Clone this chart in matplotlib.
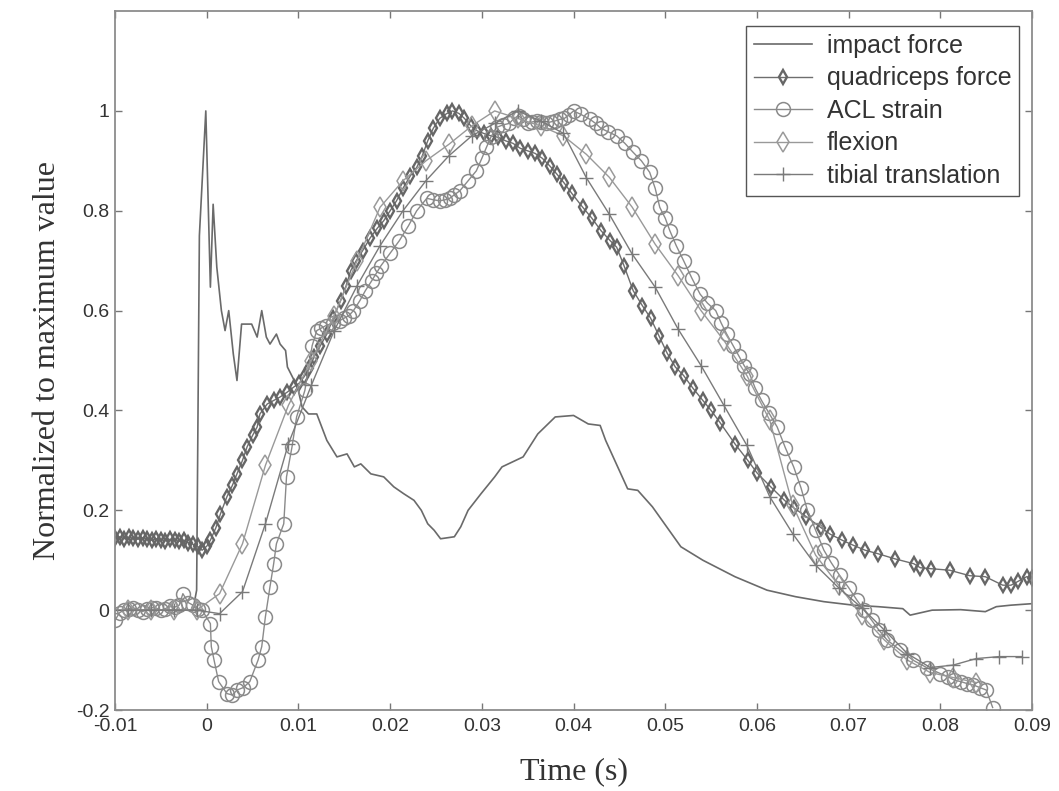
import matplotlib
matplotlib.use("Agg")
import matplotlib.pyplot as plt

plt.rcParams['font.family'] = ['Liberation Sans', 'DejaVu Sans']

# impact force (solid line)
t_imp = [-0.01, -0.006, -0.003, -0.0015, -0.0011, -0.0008, -0.0001, 0.0004, 0.0007, 0.0011,
         0.0016, 0.002, 0.0024, 0.0029, 0.0033, 0.0038, 0.0044, 0.0049, 0.0055, 0.006,
         0.0065, 0.0069, 0.0076, 0.008, 0.0086, 0.0088, 0.0099, 0.0104, 0.0111, 0.012,
         0.0131, 0.0142, 0.0153, 0.0161, 0.0168, 0.0179, 0.0193, 0.0204, 0.0215, 0.0226,
         0.0234, 0.0241, 0.0248, 0.0255, 0.027, 0.0277, 0.0285, 0.0299, 0.0314, 0.0322,
         0.0345, 0.0361, 0.038, 0.040, 0.0416, 0.0429, 0.0435, 0.0459, 0.047, 0.0486,
         0.0517, 0.0541, 0.0576, 0.0611, 0.0642, 0.0673, 0.0705, 0.0732, 0.0759, 0.0767,
         0.0791, 0.0822, 0.0849, 0.0861, 0.0877, 0.09]
f_imp = [0.0, 0.0, 0.0, 0.0, 0.04, 0.75, 1.0, 0.647, 0.813, 0.687,
         0.6, 0.56, 0.6, 0.513, 0.46, 0.573, 0.573, 0.573, 0.547, 0.6,
         0.547, 0.533, 0.553, 0.533, 0.52, 0.487, 0.447, 0.407, 0.393, 0.393,
         0.34, 0.307, 0.313, 0.287, 0.293, 0.273, 0.267, 0.247, 0.233, 0.22,
         0.2, 0.173, 0.16, 0.143, 0.147, 0.167, 0.2, 0.233, 0.267, 0.287,
         0.307, 0.353, 0.387, 0.39, 0.373, 0.37, 0.34, 0.243, 0.24, 0.207,
         0.127, 0.1, 0.067, 0.04, 0.027, 0.017, 0.01, 0.007, 0.003, -0.01,
         0.0, 0.001, -0.003, 0.007, 0.01, 0.013]

# quadriceps force
t_quad = [-0.01, -0.0095, -0.009, -0.0085, -0.008, -0.0075, -0.007, -0.0065, -0.006, -0.0055,
          -0.005, -0.0045, -0.004, -0.0035, -0.003, -0.0025, -0.002, -0.0015, -0.001, -0.0005,
          0.0, 0.0004, 0.001, 0.0015, 0.0022, 0.0028, 0.0033, 0.0039, 0.0044, 0.005,
          0.0055, 0.0058, 0.0066, 0.0073, 0.008, 0.0088, 0.0095, 0.0101, 0.0106, 0.0112,
          0.0117, 0.0124, 0.0131, 0.0138, 0.0146, 0.0152, 0.0157, 0.0163, 0.017, 0.0178,
          0.0186, 0.0193, 0.02, 0.0207, 0.0214, 0.0222, 0.0229, 0.0235, 0.0241, 0.0247,
          0.0254, 0.0262, 0.0268, 0.0275, 0.0281, 0.0288, 0.0295, 0.0302, 0.031, 0.0318,
          0.0326, 0.0334, 0.0342, 0.035, 0.0358, 0.0366, 0.0374, 0.0382, 0.039, 0.0398,
          0.041, 0.042, 0.043, 0.044, 0.0447, 0.0455, 0.0465, 0.0475, 0.0484, 0.0493,
          0.0502, 0.0511, 0.052, 0.053, 0.0541, 0.055, 0.056, 0.0576, 0.059, 0.06,
          0.0615, 0.063, 0.064, 0.0654, 0.067, 0.068, 0.0693, 0.0705, 0.0718, 0.0732,
          0.075, 0.0771, 0.0778, 0.079, 0.081, 0.0832, 0.0849, 0.0868, 0.0877, 0.0885,
          0.0894, 0.09]
f_quad = [0.145, 0.147, 0.143, 0.146, 0.144, 0.142, 0.145, 0.143, 0.14, 0.143,
          0.141, 0.139, 0.142, 0.14, 0.138, 0.14, 0.135, 0.132, 0.128, 0.12,
          0.128, 0.14, 0.165, 0.193, 0.227, 0.25, 0.273, 0.3, 0.327, 0.35,
          0.367, 0.393, 0.413, 0.42, 0.427, 0.437, 0.447, 0.455, 0.467, 0.485,
          0.507, 0.53, 0.553, 0.585, 0.62, 0.65, 0.68, 0.70, 0.72, 0.745,
          0.765, 0.78, 0.8, 0.82, 0.845, 0.87, 0.887, 0.91, 0.94, 0.965,
          0.985, 0.995, 1.0, 0.995, 0.985, 0.97, 0.96, 0.955, 0.95, 0.947,
          0.94, 0.935, 0.925, 0.92, 0.915, 0.905, 0.89, 0.873, 0.855, 0.835,
          0.807, 0.785, 0.76, 0.74, 0.727, 0.69, 0.64, 0.61, 0.585, 0.55,
          0.515, 0.487, 0.47, 0.445, 0.42, 0.4, 0.375, 0.333, 0.3, 0.275,
          0.247, 0.22, 0.205, 0.187, 0.165, 0.152, 0.14, 0.13, 0.12, 0.113,
          0.103, 0.093, 0.085, 0.083, 0.08, 0.069, 0.067, 0.05, 0.05, 0.058,
          0.067, 0.065]

# ACL strain
t_acl = [-0.01, -0.0095, -0.009, -0.0085, -0.008, -0.0075, -0.007, -0.0065, -0.006, -0.0055,
         -0.005, -0.0045, -0.004, -0.0035, -0.003, -0.0026, -0.002, -0.0015, -0.001, -0.0005,
         0.0004, 0.0005, 0.0008, 0.0013, 0.0022, 0.0028, 0.0033, 0.004, 0.0047, 0.0056,
         0.006, 0.0064, 0.0069, 0.0073, 0.0076, 0.0084, 0.0087, 0.0093, 0.0098, 0.0107,
         0.0115, 0.012, 0.0125, 0.013, 0.0138, 0.0145, 0.015, 0.0155, 0.016, 0.0167,
         0.0173, 0.018, 0.0185, 0.019, 0.02, 0.021, 0.022, 0.0229, 0.024, 0.0247,
         0.0254, 0.026, 0.0265, 0.027, 0.0276, 0.0285, 0.0294, 0.03, 0.0305, 0.031,
         0.0316, 0.0323, 0.033, 0.0335, 0.034, 0.0345, 0.035, 0.0355, 0.036, 0.0365,
         0.037, 0.0375, 0.038, 0.0385, 0.039, 0.0395, 0.04, 0.0408, 0.0418, 0.0424,
         0.043, 0.0438, 0.0447, 0.0456, 0.0465, 0.0474, 0.0483, 0.0489, 0.0494, 0.05,
         0.0505, 0.0512, 0.052, 0.0529, 0.0538, 0.0546, 0.0555, 0.0561, 0.0567, 0.0574,
         0.058, 0.0586, 0.0592, 0.0598, 0.0605, 0.0613, 0.0622, 0.0631, 0.064, 0.0648,
         0.0655, 0.0664, 0.0673, 0.0681, 0.069, 0.07, 0.0709, 0.0717, 0.0725, 0.0733,
         0.0742, 0.0756, 0.077, 0.0785, 0.08, 0.0808, 0.0815, 0.0822, 0.0829, 0.0836,
         0.0843, 0.085, 0.0857]
f_acl = [-0.02, -0.005, 0.0, 0.003, 0.005, 0.0, -0.003, 0.002, 0.005, 0.004,
         0.0, 0.003, 0.008, 0.006, 0.01, 0.033, 0.015, 0.01, 0.003, 0.0,
         -0.027, -0.073, -0.1, -0.143, -0.167, -0.17, -0.16, -0.155, -0.143, -0.1,
         -0.073, -0.013, 0.047, 0.093, 0.133, 0.173, 0.267, 0.327, 0.387, 0.44,
         0.53, 0.56, 0.565, 0.57, 0.575, 0.58, 0.585, 0.59, 0.6, 0.62,
         0.64, 0.66, 0.675, 0.69, 0.715, 0.74, 0.77, 0.8, 0.825, 0.822,
         0.82, 0.822, 0.825, 0.832, 0.84, 0.86, 0.88, 0.905, 0.927, 0.948,
         0.967, 0.972, 0.975, 0.985, 0.99, 0.983, 0.975, 0.978, 0.98, 0.978,
         0.975, 0.978, 0.98, 0.983, 0.985, 0.992, 1.0, 0.993, 0.983, 0.975,
         0.965, 0.958, 0.95, 0.935, 0.917, 0.9, 0.877, 0.845, 0.807, 0.785,
         0.76, 0.73, 0.7, 0.665, 0.633, 0.615, 0.6, 0.575, 0.553, 0.53,
         0.51, 0.49, 0.473, 0.445, 0.42, 0.395, 0.367, 0.325, 0.287, 0.245,
         0.2, 0.16, 0.12, 0.095, 0.07, 0.045, 0.02, 0.0, -0.02, -0.04,
         -0.06, -0.08, -0.1, -0.115, -0.127, -0.133, -0.14, -0.143, -0.147, -0.15,
         -0.155, -0.16, -0.195]

# flexion (sampled every 2.5 ms)
t_flex = [-0.0086, -0.0061, -0.0036, -0.0011, 0.0014, 0.0039, 0.0064, 0.0089, 0.0114, 0.0139,
          0.0164, 0.0189, 0.0214, 0.0239, 0.0264, 0.0289, 0.0314, 0.0339, 0.0364, 0.0389,
          0.0414, 0.0439, 0.0464, 0.0489, 0.0514, 0.0539, 0.0564, 0.0589, 0.0614, 0.0639,
          0.0664, 0.0689, 0.0714, 0.0739, 0.0764, 0.0789, 0.0814, 0.0839]
f_flex = [0.0, 0.0, 0.0, 0.0, 0.033, 0.133, 0.29, 0.41, 0.5, 0.59,
          0.7, 0.807, 0.86, 0.9, 0.933, 0.97, 1.0, 0.985, 0.97, 0.95,
          0.913, 0.867, 0.807, 0.733, 0.67, 0.6, 0.54, 0.47, 0.38, 0.21,
          0.11, 0.05, -0.01, -0.06, -0.1, -0.125, -0.135, -0.145]

# tibial translation (sampled every 2.5 ms)
t_tib = [-0.0086, -0.0061, -0.0036, -0.0011, 0.0014, 0.0039, 0.0064, 0.0089, 0.0114, 0.0139,
         0.0164, 0.0189, 0.0214, 0.0239, 0.0264, 0.0289, 0.0314, 0.0339, 0.0364, 0.0389,
         0.0414, 0.0439, 0.0464, 0.0489, 0.0514, 0.0539, 0.0564, 0.0589, 0.0614, 0.0639,
         0.0664, 0.0689, 0.0714, 0.0739, 0.0764, 0.0789, 0.0814, 0.0839, 0.0864, 0.0889]
f_tib = [0.0, 0.0, 0.0, 0.0, -0.007, 0.037, 0.173, 0.333, 0.45, 0.56,
         0.65, 0.73, 0.8, 0.86, 0.91, 0.95, 0.975, 1.0, 0.98, 0.955,
         0.866, 0.793, 0.713, 0.647, 0.563, 0.49, 0.41, 0.33, 0.227, 0.153,
         0.09, 0.045, 0.005, -0.04, -0.087, -0.115, -0.11, -0.097, -0.093, -0.093]

xticks = [-0.01, 0, 0.01, 0.02, 0.03, 0.04, 0.05, 0.06, 0.07, 0.08, 0.09]
xtick_labels = ['-0.01', '0', '0.01', '0.02', '0.03', '0.04', '0.05', '0.06', '0.07', '0.08', '0.09']
yticks = [-0.2, 0, 0.2, 0.4, 0.6, 0.8, 1.0]
ytick_labels = ['-0.2', '0', '0.2', '0.4', '0.6', '0.8', '1']

fig = plt.figure(figsize=(10.59, 7.91), dpi=100)
ax = fig.add_axes([0.1086, 0.1024, 0.866, 0.8836])

ax.plot(t_imp, f_imp, '-', color='#6a6a6a', lw=1.2, label='impact force')
ax.plot(t_quad, f_quad, '-d', color='#6e6e6e', lw=1.0, ms=7, mfc='none', mec='#666666',
        mew=1.7, label='quadriceps force')
ax.plot(t_acl, f_acl, '-o', color='#8a8a8a', lw=1.0, ms=10, mfc='none', mec='#8a8a8a',
        mew=1.1, label='ACL strain')
ax.plot(t_flex, f_flex, '-d', color='#999999', lw=1.0, ms=10, mfc='none', mec='#9a9a9a',
        mew=1.1, label='flexion')
ax.plot(t_tib, f_tib, '-+', color='#7a7a7a', lw=1.0, ms=10, mew=1.0,
        label='tibial translation')

ax.set_xlim(-0.01, 0.09)
ax.set_ylim(-0.2, 1.2)
ax.set_xticks(xticks)
ax.set_xticklabels(xtick_labels)
ax.set_yticks(yticks)
ax.set_yticklabels(ytick_labels)
ax.tick_params(direction='in', top=True, right=True, length=5, width=1,
               color='#777777', labelsize=14, labelcolor='#333333', pad=4)
ax.tick_params(axis='x', pad=6)
for s in ax.spines.values():
    s.set_color('#8c8c8c')
    s.set_linewidth(1.3)

ax.set_xlabel('Time (s)', family='Liberation Serif', fontsize=23, color='#333333', labelpad=16)
ax.set_ylabel('Normalized to maximum value', family='Liberation Serif', fontsize=23,
              color='#333333', labelpad=10)

leg = ax.legend(loc='upper right', bbox_to_anchor=(0.986, 0.979), borderaxespad=0,
                fancybox=False, fontsize=18, handlelength=2.3, handletextpad=0.6,
                labelspacing=0.34, borderpad=0.32, framealpha=1)
leg.get_frame().set_edgecolor('#555555')
leg.get_frame().set_linewidth(1.0)
for t in leg.get_texts():
    t.set_color('#333333')

fig.savefig('out.png', dpi=100)
